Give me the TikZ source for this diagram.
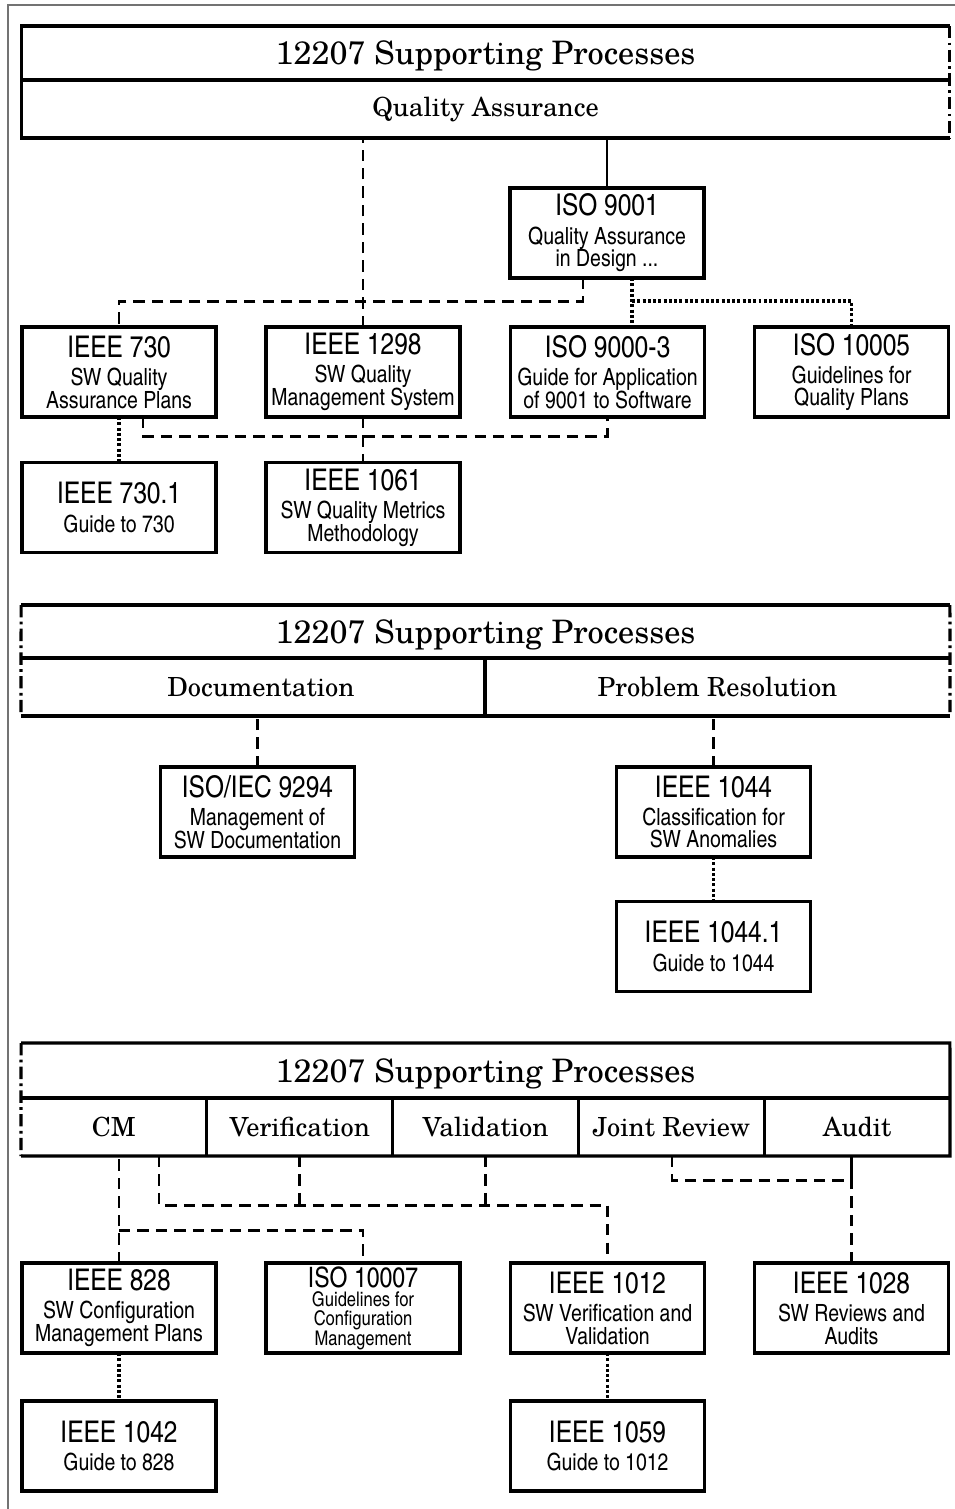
\documentclass[tikz,border=0pt]{standalone}
\usepackage{fontspec}
\setmainfont{texgyreschola}[Extension=.otf,UprightFont=*-regular]
\newfontfamily\heroscn{texgyreheroscn}[Extension=.otf,UprightFont=*-regular]
\usepackage{tikz}

\newcommand{\stdnum}{\fontsize{17}{19}\selectfont}
\newcommand{\stddesc}{\fontsize{13.5}{13}\selectfont}
\newcommand{\procsz}{\fontsize{18.4}{21}\selectfont}
\newcommand{\actsz}{\fontsize{15}{17}\selectfont}

\tikzset{
  stdbox/.style={draw, line width=2pt, minimum width=3.88cm, minimum height=1.8cm,
    inner sep=0pt, outer sep=0pt, align=center, font=\heroscn\stddesc},
  cell/.style={inner sep=0pt, outer sep=0pt, font=\actsz},
  proc/.style={cell, minimum width=18.58cm, font=\procsz, text depth=-2pt},
  hdrline/.style={line width=1.8pt},
  edgedash/.style={line width=1.8pt, dash pattern=on 7pt off 2.5pt on 1.5pt off 2.5pt},
  dashline/.style={line width=1.7pt, dash pattern=on 6.5pt off 4pt},
  dotline/.style={line width=1.9pt, dash pattern=on 1.7pt off 1.3pt},
  solidline/.style={line width=1.7pt}
}

\begin{document}
\begin{tikzpicture}[x=0.02cm, y=-0.02cm]
  \useasboundingbox (0,0) rectangle (955,1509);
  \draw[black!55, line width=0.9pt] (8,1509) -- (8,5) -- (955,5);

  % quality assurance
  \node[proc, minimum height=1.08cm] (procA) at (485.5,53) {12207 Supporting Processes};
  \node[cell, minimum width=18.58cm, minimum height=1.16cm] (qa) at (485.5,109) {Quality Assurance};
  \draw[hdrline] (procA.north east) -- (procA.north west) -- (qa.south west) -- (qa.south east);
  \draw[hdrline] (qa.north west) -- (qa.north east);
  \draw[edgedash] (procA.north east) -- (qa.south east);

  \node[stdbox] (iso9001) at (607,233) {{\stdnum ISO 9001}\\[3pt]Quality Assurance\\in Design ...};
  \node[stdbox] (ieee730) at (119,372) {{\stdnum IEEE 730}\\[3pt]SW Quality\\Assurance Plans};
  \node[stdbox] (ieee1298) at (363,372) {{\stdnum IEEE 1298}\\[3pt]SW Quality\\Management System};
  \node[stdbox] (iso9000) at (607.5,372) {{\stdnum ISO 9000-3}\\[3pt]Guide for Application\\of 9001 to Software};
  \node[stdbox] (iso10005) at (851.5,372) {{\stdnum ISO 10005}\\[3pt]Guidelines for\\Quality Plans};
  \node[stdbox] (ieee7301) at (119,507.5) {{\stdnum IEEE 730.1}\\[3pt]Guide to 730};
  \node[stdbox] (ieee1061) at (363,507.5) {{\stdnum IEEE 1061}\\[3pt]SW Quality Metrics\\Methodology};

  \coordinate (qaL) at (583,301);
  \coordinate (qaR) at (632,301);
  \coordinate (lowA) at (143,436);
  \draw[solidline] (iso9001.north) -- (iso9001.north |- qa.south);
  \draw[dashline] (ieee1298.north) -- (ieee1298.north |- qa.south);
  \draw[dashline] (iso9001.south -| qaL) -- (qaL) -| (ieee730.north);
  \draw[dotline] (iso9001.south -| qaR) -- (iso9000.north -| qaR);
  \draw[dotline] (qaR) -| (iso10005.north);
  \draw[dashline] (ieee730.south -| lowA) -- (lowA) -| (iso9000.south);
  \draw[dashline] (ieee1298.south) -- (ieee1061.north);
  \draw[dotline] (ieee730.south) -- (ieee7301.north);

  % documentation, problem resolution
  \node[proc, minimum height=1.06cm] (procB) at (485.5,631.5) {12207 Supporting Processes};
  \node[cell, minimum width=9.28cm, minimum height=1.16cm] (docu) at (253,687) {\hspace{9pt}Documentation};
  \node[cell, minimum width=9.3cm, minimum height=1.16cm] (probres) at (717.5,687) {Problem Resolution};
  \draw[hdrline] (procB.north west) -- (procB.north east);
  \draw[hdrline] (procB.south west) -- (procB.south east);
  \draw[hdrline] (docu.south west) -- (probres.south east);
  \draw[hdrline] (docu.north east) -- (docu.south east);
  \draw[edgedash] (procB.north west) -- (docu.south west);
  \draw[edgedash] (procB.north east) -- (probres.south east);

  \node[stdbox] (iso9294) at (257.5,812) {{\stdnum ISO/IEC 9294}\\[3pt]Management of\\SW Documentation};
  \node[stdbox] (ieee1044) at (713.5,812) {{\stdnum IEEE 1044}\\[3pt]Classification for\\SW Anomalies};
  \node[stdbox] (ieee10441) at (713.5,946.5) {{\stdnum IEEE 1044.1}\\[3pt]Guide to 1044};

  \draw[dashline] (iso9294.north) -- (iso9294.north |- docu.south);
  \draw[dashline] (ieee1044.north) -- (ieee1044.north |- probres.south);
  \draw[dotline] (ieee1044.south) -- (ieee10441.north);

  % cm, verification, validation, joint review, audit
  \node[proc, minimum height=1.1cm] (procC) at (485.5,1070.5) {12207 Supporting Processes};
  \node[cell, minimum width=3.716cm, minimum height=1.16cm] (cm) at (113.9,1127) {CM};
  \node[cell, minimum width=3.716cm, minimum height=1.16cm] (verif) at (299.7,1127) {Verification};
  \node[cell, minimum width=3.716cm, minimum height=1.16cm] (valid) at (485.5,1127) {Validation};
  \node[cell, minimum width=3.716cm, minimum height=1.16cm] (joint) at (671.3,1127) {Joint Review};
  \node[cell, minimum width=3.716cm, minimum height=1.16cm] (audit) at (857.1,1127) {Audit};
  \draw[hdrline] (procC.north west) -- (procC.north east) -- (audit.south east) -- (cm.south west);
  \draw[hdrline] (procC.south west) -- (procC.south east);
  \foreach \c in {cm,verif,valid,joint}
    \draw[hdrline] (\c.north east) -- (\c.south east);
  \draw[edgedash] (procC.north west) -- (cm.south west);

  \node[stdbox] (ieee828) at (119,1308) {{\stdnum IEEE 828}\\[3pt]SW Configuration\\Management Plans};
  \node[stdbox, font=\heroscn\fontsize{11.5}{11}\selectfont] (iso10007) at (363,1308) {{\fontsize{16}{18}\selectfont ISO 10007}\\Guidelines for\\Configuration\\Management};
  \node[stdbox] (ieee1012) at (607.5,1308) {{\stdnum IEEE 1012}\\[3pt]SW Verification and\\Validation};
  \node[stdbox] (ieee1028) at (851.5,1308) {{\stdnum IEEE 1028}\\[3pt]SW Reviews and\\Audits};
  \node[stdbox] (ieee1042) at (119,1446) {{\stdnum IEEE 1042}\\[3pt]Guide to 828};
  \node[stdbox] (ieee1059) at (607.5,1446) {{\stdnum IEEE 1059}\\[3pt]Guide to 1012};

  \coordinate (cmJ) at (119,1230);
  \coordinate (vvJ) at (159,1205);
  \coordinate (jrJ) at (672,1180);
  \draw[dashline] (ieee828.north) -- (ieee828.north |- cm.south);
  \draw[dashline] (cmJ) -| (iso10007.north);
  \draw[dashline] (cm.south -| vvJ) -- (vvJ) -| (ieee1012.north);
  \draw[dashline] (verif.south) -- (verif.south |- vvJ);
  \draw[dashline] (valid.south) -- (valid.south |- vvJ);
  \draw[dashline] (ieee1028.north) -- (ieee1028.north |- audit.south);
  \draw[dashline] (joint.south -| jrJ) -- (jrJ) -| (ieee1028.north |- audit.south);
  \draw[dotline] (ieee828.south) -- (ieee1042.north);
  \draw[dotline] (ieee1012.south) -- (ieee1059.north);
\end{tikzpicture}
\end{document}
